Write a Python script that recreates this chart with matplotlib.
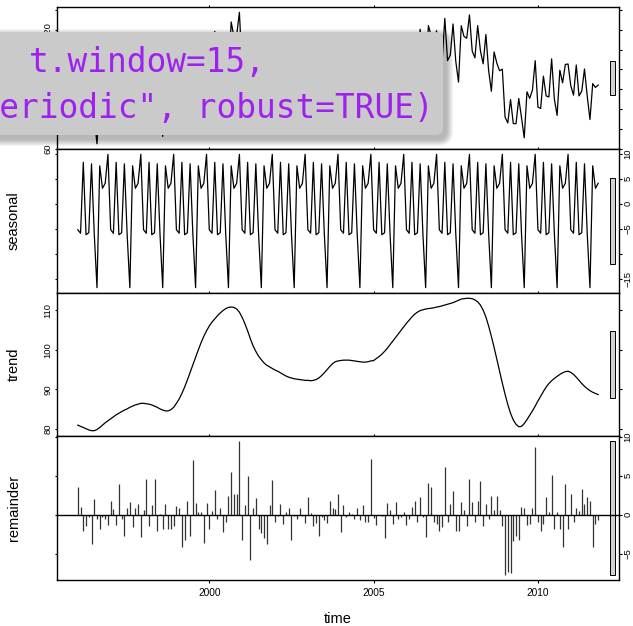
import numpy as np
import matplotlib.pyplot as plt
import matplotlib.transforms as mtransforms
from matplotlib.patches import FancyBboxPatch, Rectangle
from matplotlib.ticker import FixedLocator

plt.rcParams['font.family'] = ['Liberation Sans', 'DejaVu Sans']

# monthly series, Jan 1996 .. Nov 2011 (elecequip, STL decomposition)
start_year = 1996

# one seasonal cycle (s.window="periodic"), Jan..Dec
seasonal_cycle = [-5.2, -5.9, 8.3, -6.2, -5.8, 8.0, -6.0, -16.8, 7.6, 3.1, 4.1, 9.9]

trend = [
    81.0, 80.7, 80.4, 80.1, 79.8, 79.6, 79.6, 79.9, 80.4, 81.0, 81.6, 82.1,
    82.6, 83.1, 83.6, 84.0, 84.4, 84.8, 85.1, 85.5, 85.8, 86.1, 86.3, 86.5,
    86.5, 86.4, 86.3, 86.1, 85.8, 85.5, 85.1, 84.8, 84.6, 84.6, 84.9, 85.5,
    86.5, 87.6, 89.0, 90.6, 92.4, 94.3, 96.2, 98.1, 100.0, 101.8, 103.4, 104.8,
    106.0, 107.0, 107.8, 108.6, 109.3, 109.9, 110.4, 110.7, 110.8, 110.7, 110.3, 109.5,
    108.2, 106.6, 104.8, 102.8, 101.0, 99.6, 98.4, 97.5, 96.7, 96.1, 95.7, 95.3,
    94.9, 94.6, 94.2, 93.8, 93.4, 93.1, 92.9, 92.7, 92.6, 92.5, 92.4, 92.3,
    92.3, 92.2, 92.3, 92.5, 92.9, 93.5, 94.2, 95.0, 95.8, 96.5, 97.0, 97.2,
    97.3, 97.4, 97.4, 97.4, 97.3, 97.2, 97.1, 97.0, 96.9, 96.9, 97.0, 97.2,
    97.3, 97.8, 98.3, 98.9, 99.6, 100.4, 101.3, 102.2, 103.1, 104.0, 104.9, 105.8,
    106.7, 107.5, 108.3, 109.0, 109.5, 109.9, 110.1, 110.3, 110.4, 110.5, 110.6, 110.8,
    110.9, 111.1, 111.3, 111.5, 111.7, 111.9, 112.2, 112.5, 112.8, 112.9, 113.0, 113.0,
    112.9, 112.6, 112.1, 111.3, 110.0, 108.3, 106.0, 103.4, 100.6, 97.6, 94.6, 91.6,
    88.8, 86.2, 84.0, 82.3, 81.2, 80.6, 80.7, 81.4, 82.4, 83.5, 84.6, 85.8,
    87.1, 88.3, 89.5, 90.6, 91.5, 92.2, 92.8, 93.3, 93.8, 94.2, 94.5, 94.6,
    94.3, 93.8, 93.1, 92.3, 91.5, 90.8, 90.2, 89.7, 89.3, 89.0, 88.7,
]

remainder = [
    3.6, 1.0, -2.1, -1.5, -0.3, -3.8, 2.0, -0.6, -1.9, -0.3, -0.6, -1.3,
    1.8, 0.7, -1.3, 3.9, -0.6, -2.7, 0.8, 1.6, -1.6, 0.8, 1.3, -2.9,
    0.6, 4.6, -1.4, 1.2, 4.6, -2.1, 0.1, -1.8, 1.4, -1.8, -1.8, -1.5,
    1.1, 0.9, -4.2, -3.2, 1.8, -2.7, 7.0, 1.5, 0.3, 0.3, -3.6, 1.5,
    -1.8, 0.5, 3.1, -0.6, 0.9, -2.2, -0.9, 2.4, 5.5, 2.6, 2.7, 9.4,
    -3.2, 1.2, 5.0, -5.8, 0.9, 2.1, -1.9, -2.3, -3.0, -3.8, 1.2, 4.4,
    -0.9, -0.2, 1.4, -1.2, 0.4, 0.9, -3.2, -0.2, -0.5, 0.9, -0.2, -1.1,
    2.2, 0.2, -1.5, -1.1, -2.8, -0.3, -0.7, -1.1, 1.8, 0.8, 0.7, 2.6,
    -2.2, 1.2, -0.3, 0.3, 0.1, -0.6, 0.9, -0.7, 1.2, -0.9, -1.0, 7.1,
    -0.4, -1.3, 0.0, -0.2, -3.0, 1.5, 0.6, -1.2, 1.6, -0.6, -0.3, 0.3,
    -1.3, -0.6, 1.0, 1.8, -0.9, 2.3, -0.3, -2.9, 4.1, 3.5, -1.0, -1.2,
    -2.1, -1.6, 6.1, -0.9, 1.3, 3.0, -2.1, -2.1, 1.6, 0.6, -1.4, 4.6,
    1.6, -0.9, 1.7, 4.3, -1.4, 1.3, -0.6, 2.4, 0.6, 2.4, 0.6, -1.4,
    -7.7, -7.3, -7.5, -3.4, -2.8, -3.3, 1.0, 0.9, -1.3, -1.2, 0.9, 8.7,
    -0.9, -2.1, -1.2, 2.2, 0.4, 5.1, -1.8, 0.3, -1.8, -4.1, 3.9, -1.8,
    2.6, -0.9, 0.8, 0.5, 3.3, 1.4, 2.3, 1.8, -4.1, -1.2, -0.7,
]

panel_names = ["data", "seasonal", "trend", "remainder"]
x_ticks = [2000, 2005, 2010]
labelled_ticks = [[60, 80, 100, 120], [10, 5, 0, -5, -15], [80, 90, 100, 110], [-5, 0, 5, 10]]
extra_ticks = [[70, 90, 110, 130], [-10], [], []]

code_line1 = "t.window=15,"
code_line2 = 's.window="periodic", robust=TRUE)'

# ---- assemble the decomposition ----
trend = np.array(trend)
remainder = np.array(remainder)
time = start_year + np.arange(len(trend)) / 12
seasonal = np.resize(seasonal_cycle, len(trend))
data = seasonal + trend + remainder
series = [data, seasonal, trend, remainder]

W, H = 633, 626
fig = plt.figure(figsize=(W / 100, H / 100), dpi=100)

# panel edges in pixels from the top
left, right = 57, 619
edges = [7, 149, 293, 436, 580]

rng = [s.max() - s.min() for s in series]
bar_h = min(rng)

axes = []
for i, (name, y) in enumerate(zip(panel_names, series)):
    top, bot = edges[i], edges[i + 1]
    ax = fig.add_axes([left / W, 1 - bot / H, (right - left) / W, (bot - top) / H])
    axes.append(ax)
    if name == "remainder":
        ax.vlines(time, 0, y, color="#333333", lw=0.9)
        ax.axhline(0, color="black", lw=1.0)
    else:
        ax.plot(time, y, color="black", lw=0.9)
    ax.margins(x=0.04, y=0.04)

    # range bar
    tr = mtransforms.blended_transform_factory(ax.transAxes, ax.transData)
    mid = (y.max() + y.min()) / 2
    ax.add_patch(Rectangle((1 - 1 / 64, mid - bar_h / 2), 0.6 / 64, bar_h,
                           transform=tr, fc="#d3d3d3", ec="black", lw=0.7))

    ax.yaxis.set_major_locator(FixedLocator(labelled_ticks[i]))
    ax.yaxis.set_minor_locator(FixedLocator(extra_ticks[i]))
    ax.set_xticks(x_ticks)
    lab_left = (i % 2 == 0)
    ax.tick_params(axis="y", which="both", direction="out", length=1.8, width=0.8,
                   left=True, right=True, labelleft=lab_left, labelright=not lab_left,
                   labelsize=6.8, pad=1.5, labelrotation=90)
    ax.tick_params(axis="x", direction="out", length=1.8, width=0.8, top=True, bottom=True,
                   labelbottom=(i == 3), labelsize=7.3, pad=4)
    for lab in ax.get_yticklabels():
        lab.set_va("center")
    for sp in ax.spines.values():
        sp.set_linewidth(1.0)
    ax.set_ylabel(name, fontsize=10.5)
    ax.yaxis.set_label_coords((21 - left) / (right - left), 0.5)

axes[3].set_xlabel("time", fontsize=10.5)
axes[3].xaxis.set_label_coords(0.5, -(612 - 580) / 144)

# overlay code box (pixel coordinates)
ident = mtransforms.IdentityTransform()
bl, br, bt, bb = -30, 443, 32, 135
for k in range(7, 0, -1):
    fig.patches.append(FancyBboxPatch(
        (bl + 3 - k, H - bb - 4 - k), br - bl + 2 * k, bb - bt + 2 * k,
        boxstyle=f"round,pad=0,rounding_size={8 + k}", transform=ident,
        fc="black", ec="none", alpha=0.045))
fig.patches.append(FancyBboxPatch(
    (bl, H - bb), br - bl, bb - bt, boxstyle="round,pad=0,rounding_size=8",
    transform=ident, fc="#cacaca", ec="none"))
fig.text(266, H - 72, code_line1, transform=ident, ha="right", va="baseline",
         family="DejaVu Sans Mono", fontsize=23.6, color="#a020f0")
fig.text(434, H - 118, code_line2, transform=ident, ha="right", va="baseline",
         family="DejaVu Sans Mono", fontsize=23.6, color="#a020f0")

fig.savefig("out.png", dpi=100)
